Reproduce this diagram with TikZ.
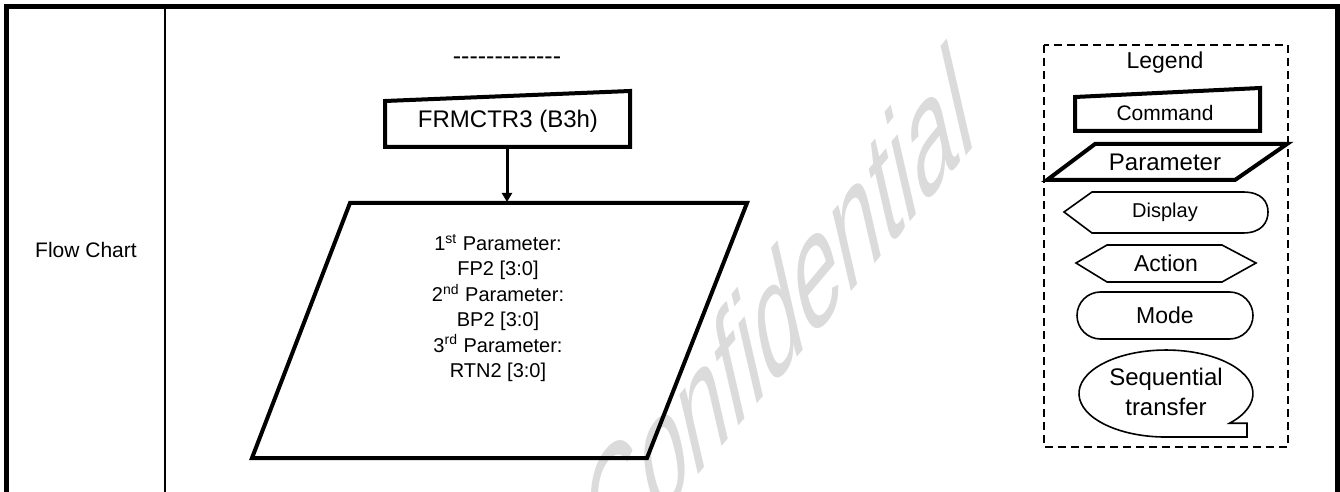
\documentclass[tikz,border=0pt]{standalone}
\usepackage{fontspec}
\setmainfont{Liberation Sans}
\usetikzlibrary{arrows.meta}

\begin{document}
\begin{tikzpicture}[x=0.5pt,y=-0.5pt,
  boldline/.style={line width=2pt,line join=miter},
  thinline/.style={line width=0.8pt},
  txt/.style={inner sep=0pt,font=\fontsize{#1}{#1}\selectfont}]
  \useasboundingbox (0,0) rectangle (1340,492);
  % watermark
  \begin{scope}
    \clip (0,0) rectangle (1340,492);
    \node[anchor=base west,inner sep=0pt,text=black!14,font=\fontsize{55}{55}\selectfont,
      cm={0.643,0.766,-0.317,1.374,(0,0)}] (wm) at (603,588) {Confidential};
  \end{scope}
  % table frame
  \draw[line width=2.5pt,line join=miter] (6.5,492) -- (6.5,6.5) -- (1337,6.5) -- (1337,492);
  \draw[line width=1pt] (165,6.5) -- (165,492);
  \node[txt=10.5] (rowlabel) at (86,250) {Flow Chart};
  \node[txt=12.5] (dashes) at (507,61) {\foreach \k in {1,...,13}{-\kern0pt}};
  % command and parameter
  \draw[boldline] (385,101) -- (630,91) -- (630,147) -- (385,147) -- cycle;
  \node[txt=12] (cmd) at (508,121) {FRMCTR3 (B3h)};
  \draw[boldline] (350,203) -- (747,203) -- (647,458) -- (252,458) -- cycle;
  \node[txt=10,font=\fontsize{10}{12.7}\selectfont,align=center] (par) at (498,308)
    {1\textsuperscript{st} Parameter:\\FP2 [3:0]\\2\textsuperscript{nd} Parameter:\\BP2 [3:0]\\3\textsuperscript{rd} Parameter:\\RTN2 [3:0]};
  \coordinate (cmdout) at (507,147);
  \coordinate (parin) at (507,202);
  \draw[line width=1.5pt,-{Triangle[length=4.5pt,width=5pt]}] (cmdout) -- (parin);
  % legend
  \draw[line width=1pt,dash pattern=on 4pt off 2.5pt] (1044,45) rectangle (1288,447);
  \node[txt=11.5] (legend) at (1165,63) {Legend};
  \draw[boldline] (1075,97) -- (1260,88) -- (1260,131) -- (1075,131) -- cycle;
  \node[txt=10.5] (lcmd) at (1165,113) {Command};
  \draw[boldline] (1095,144) -- (1287,144) -- (1235,180) -- (1047,180) -- cycle;
  \node[txt=12] (lpar) at (1165,162) {Parameter};
  \draw[thinline] (1092,192) -- (1243,192) .. controls (1262,192) and (1268,202) .. (1268,212)
    .. controls (1268,222) and (1262,233) .. (1243,233) -- (1092,233) -- (1064,212) -- cycle;
  \node[txt=10] (ldisp) at (1165,212) {Display};
  \draw[thinline] (1076,263) -- (1107,245) -- (1222,245) -- (1256,263) -- (1222,282) -- (1107,282) -- cycle;
  \node[txt=11.5] (lact) at (1166,263) {Action};
  \draw[thinline] (1100.5,292) -- (1229.5,292) arc[start angle=-90,end angle=90,radius=23.5]
    -- (1100.5,339) arc[start angle=90,end angle=270,radius=23.5] -- cycle;
  \node[txt=11.5] (lmode) at (1165,315) {Mode};
  \draw[thinline] (1229.6,423.2) arc[start angle=43,end angle=-270,x radius=87,y radius=43.5]
    -- (1247,437) -- (1247,423.2) -- cycle;
  \node[txt=12,font=\fontsize{12}{15}\selectfont,align=center] (lseq) at (1166,392) {Sequential\\transfer};
\end{tikzpicture}
\end{document}
